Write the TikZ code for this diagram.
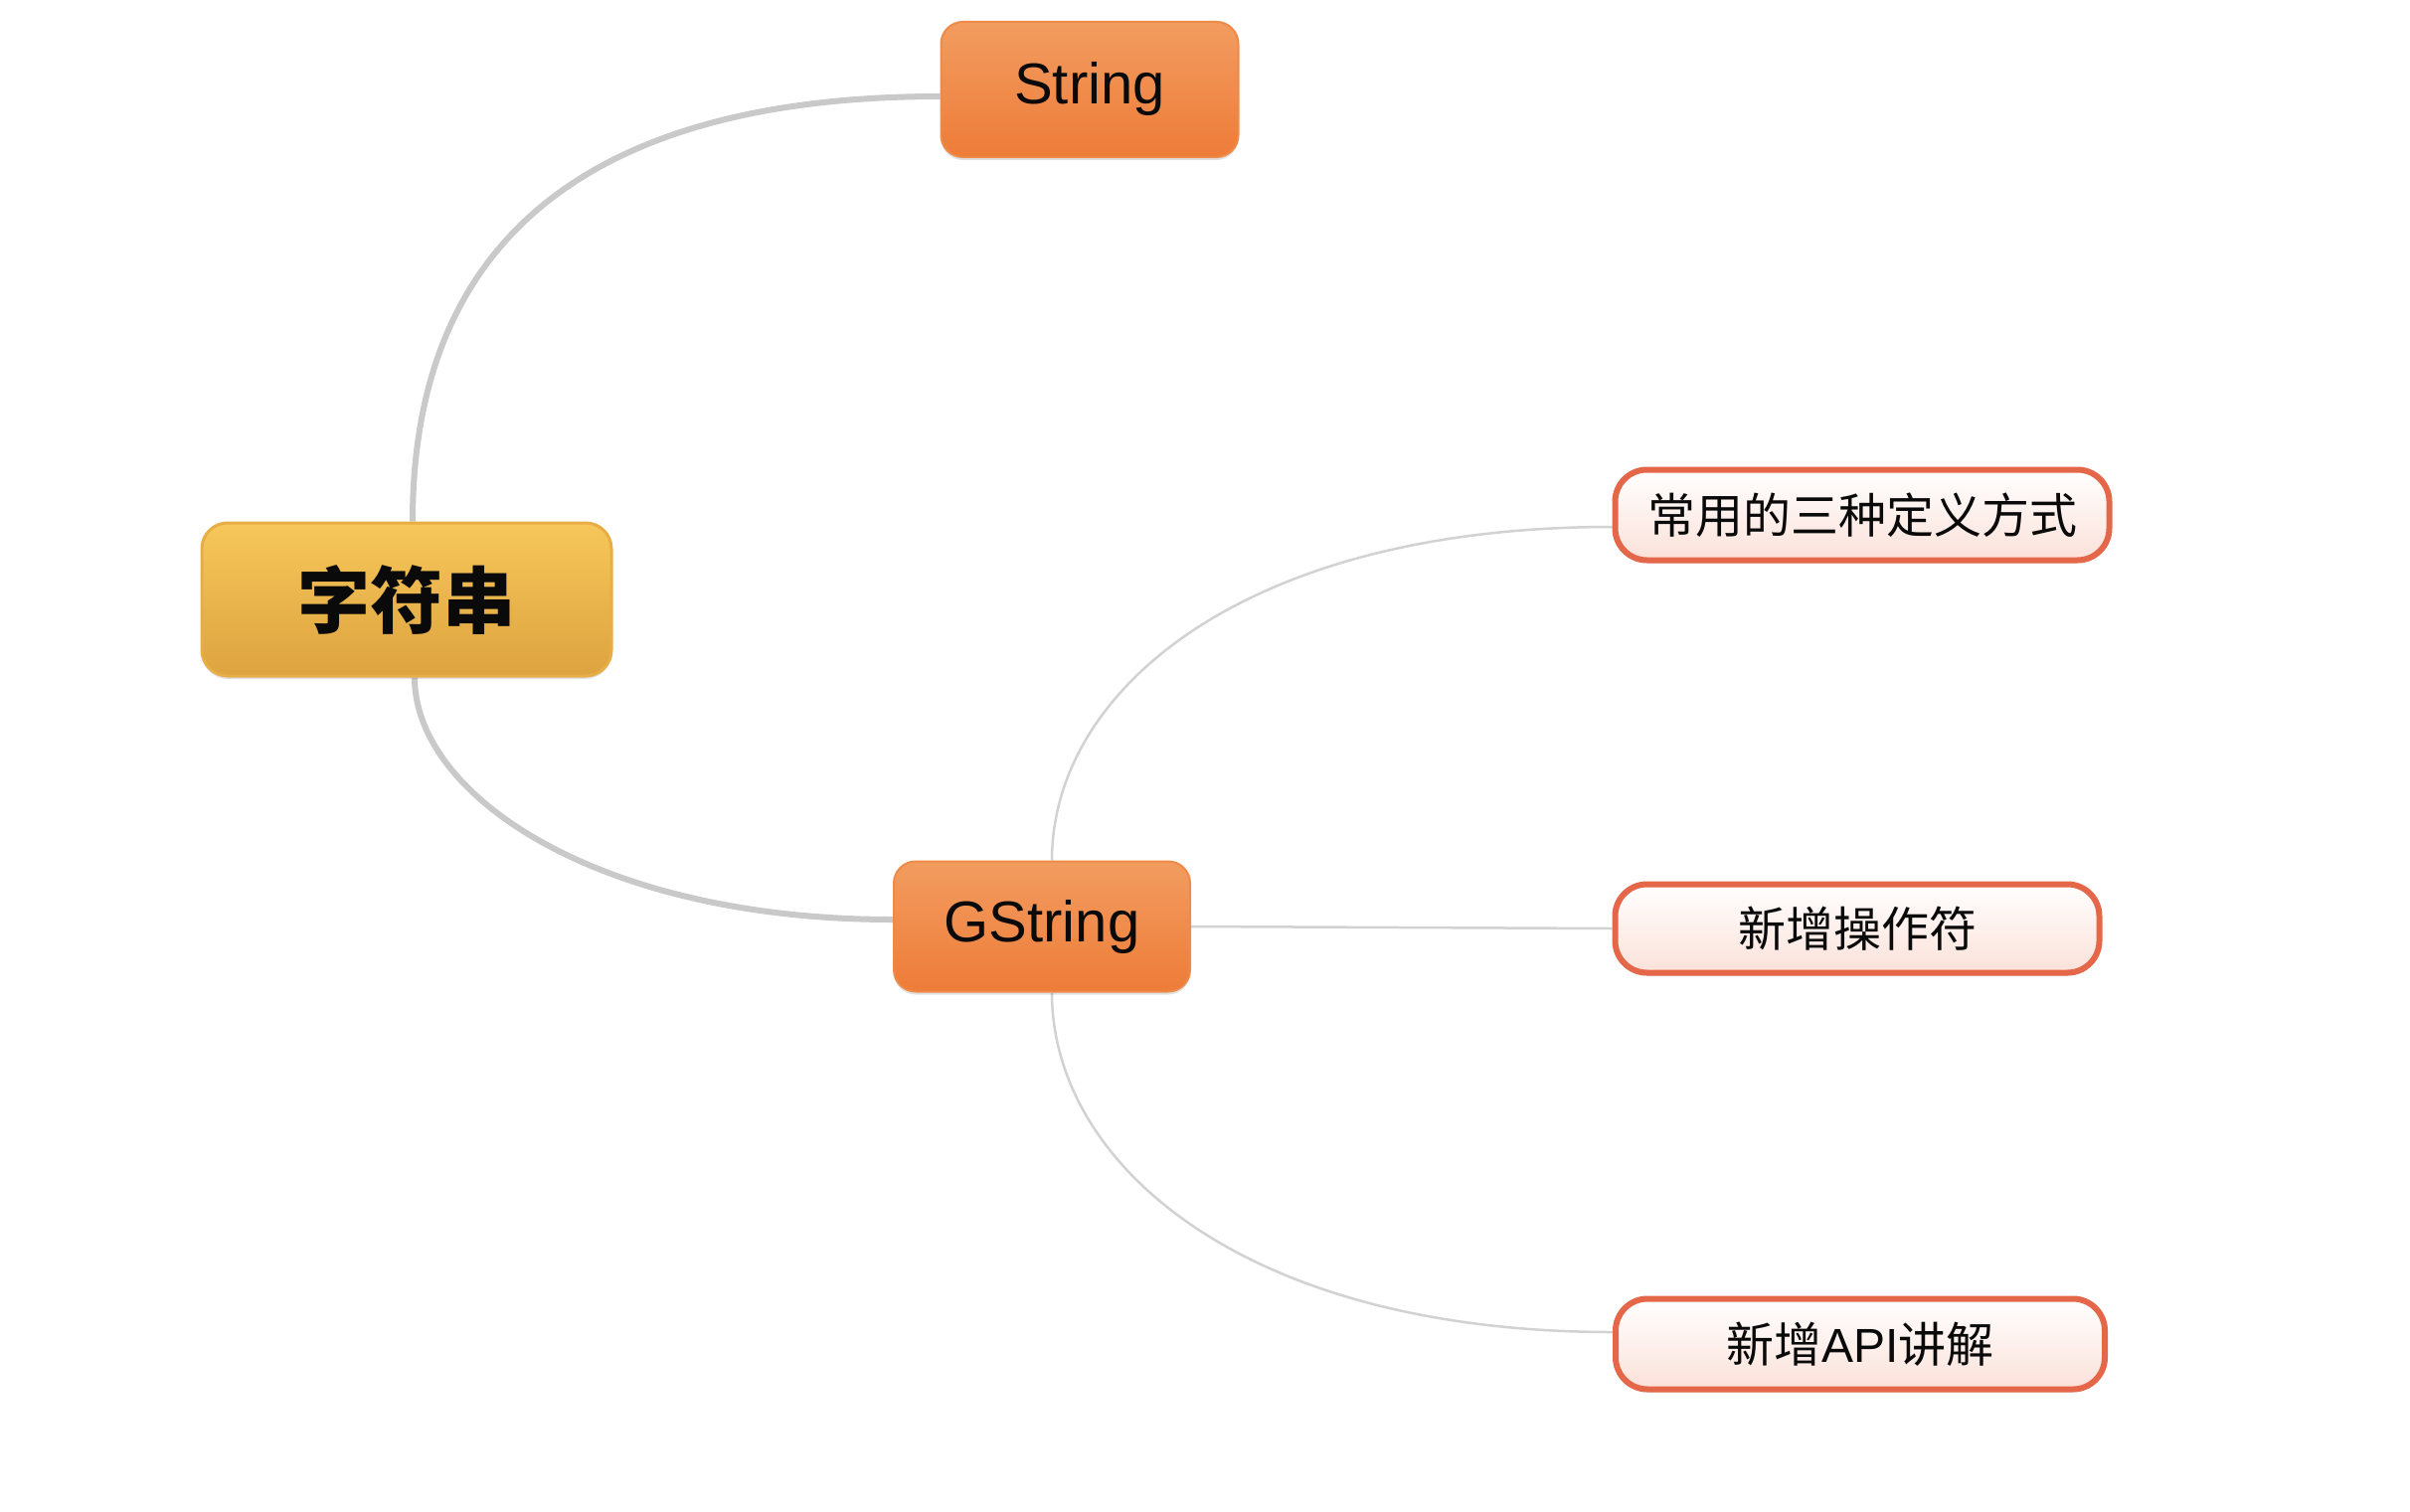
\documentclass[tikz,border=0pt]{standalone}
\usepackage{fontspec}
\setmainfont{Liberation Sans}
\newfontfamily\cjk{Noto Sans CJK SC}
\usetikzlibrary{backgrounds,shadows}
\definecolor{linkgray}{HTML}{C9C9C9}
\definecolor{sublink}{HTML}{D2D2D2}
\definecolor{orgtop}{HTML}{F29C60}
\definecolor{orgbot}{HTML}{EE7C38}
\definecolor{orgdraw}{HTML}{EE8A48}
\definecolor{rttop}{HTML}{F7C75A}
\definecolor{rtbot}{HTML}{DDA33F}
\definecolor{rtdraw}{HTML}{E8AE46}
\definecolor{leafbot}{HTML}{FBE1D9}
\definecolor{leafdraw}{HTML}{E5674A}
\definecolor{ink}{HTML}{0A0A0A}
\tikzset{
  softshadow/.style={drop shadow={shadow xshift=0pt, shadow yshift=-3pt, opacity=0.12, fill=black}},
  rootbox/.style={softshadow, rounded corners=26pt, top color=rttop, bottom color=rtbot,
    draw=rtdraw, line width=3pt, minimum width=412pt, minimum height=154pt,
    inner sep=0pt, text=ink, font=\cjk\bfseries\fontsize{73}{76}\selectfont},
  midbox/.style={softshadow, rounded corners=22pt, top color=orgtop, bottom color=orgbot,
    draw=orgdraw, line width=2pt, inner sep=0pt, text=ink,
    font=\fontsize{58}{60}\selectfont},
  leafbox/.style={softshadow, rounded corners=32pt, top color=white, bottom color=leafbot,
    draw=leafdraw, line width=6pt, minimum height=91pt, inner sep=0pt,
    text=ink, font=\cjk\fontsize{48}{50}\selectfont},
  mainlink/.style={draw=linkgray, line width=6pt},
  sublinkstyle/.style={draw=sublink, line width=2.5pt}
}
\begin{document}
\begin{tikzpicture}[x=1pt,y=-1pt]
\useasboundingbox (0,0) rectangle (2424,1520);

\node[rootbox] (root) at (409,603) {字符串};
\node[midbox, minimum width=299pt, minimum height=136pt] (str) at (1096,90) {String};
\node[midbox, minimum width=298pt, minimum height=131pt] (gs) at (1048,932) {GString};
\node[leafbox, minimum width=497pt] (c1) at (1873,518) {常用的三种定义方式};
\node[leafbox, minimum width=487pt, minimum height=89pt] (c2) at (1868,934) {新增操作符};
\node[leafbox, minimum width=492pt] (c3) at (1871,1352)
  {新增{\fontspec{Liberation Sans}API}讲解};

\begin{scope}[on background layer]
\fill[white] (0,0) rectangle (2424,1520);
\draw[mainlink] ([xshift=6pt]root.north) .. controls +(0,-325) and +(-296,0) .. ([yshift=-7pt]str.west);
\draw[mainlink] ([xshift=8pt]root.south) .. controls +(0,118) and +(-298,0) .. ([yshift=7pt]gs.west);
\draw[sublinkstyle] ([xshift=10pt]gs.north) .. controls +(0,-170) and +(-372,0) .. ([yshift=-12pt]c1.west);
\draw[sublinkstyle] (gs.east) -- (c2.west);
\draw[sublinkstyle] ([xshift=10pt]gs.south) .. controls +(0,172) and +(-372,0) .. ([yshift=12pt]c3.west);
\end{scope}
\end{tikzpicture}
\end{document}
